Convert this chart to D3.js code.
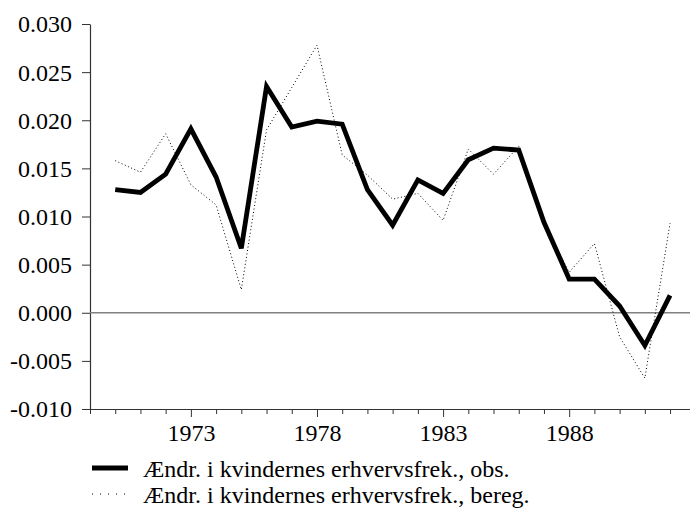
<!DOCTYPE html>
<html>
<head>
<meta charset="utf-8">
<script src="https://cdn.jsdelivr.net/npm/d3@7"></script>
<style>
  body { margin: 0; background: #fff; }
  text { font-family: "Liberation Serif", "Times New Roman", serif; fill: #000; }
</style>
</head>
<body>
<div id="chart"></div>
<script>
// years 1970-1992
const years = d3.range(1970, 1993);
const obs = [0.0128, 0.0125, 0.0144, 0.0191, 0.0141, 0.0067, 0.0235, 0.0193, 0.0199, 0.0196,
  0.0128, 0.0091, 0.0138, 0.0124, 0.0159, 0.0171, 0.0169, 0.0094, 0.0035, 0.0035,
  0.0007, -0.0034, 0.0018];
const bereg = [0.0158, 0.0146, 0.0186, 0.0133, 0.0112, 0.0024, 0.0190, 0.0234, 0.0278, 0.0164,
  0.0143, 0.0118, 0.0124, 0.0096, 0.0170, 0.0144, 0.0173, 0.0093, 0.0042, 0.0072,
  -0.0025, -0.0068, 0.0093];
const yTicks = [-0.010, -0.005, 0.000, 0.005, 0.010, 0.015, 0.020, 0.025, 0.030];
const xLabels = [1973, 1978, 1983, 1988];
const legendLabels = ["Ændr. i kvindernes erhvervsfrek., obs.", "Ændr. i kvindernes erhvervsfrek., bereg."];

const width = 690, height = 510;
const margin = { left: 90, right: 690, top: 24, bottom: 409 };
const serif = '"Liberation Serif", "Times New Roman", serif';

const svg = d3.select("#chart").append("svg")
  .attr("width", width)
  .attr("height", height);

const x = d3.scaleLinear()
  .domain([1969, 1969 + (margin.right - margin.left) / 25.22])
  .range([margin.left, margin.right]);
const y = d3.scaleLinear().domain([-0.010, 0.030]).range([margin.bottom, margin.top]);

// plain hyphen for negatives, like the original
const fmt = d => d3.format(".3f")(d).replace("\u2212", "-");

// y axis
const yAxis = svg.append("g")
  .attr("transform", `translate(${margin.left},0)`)
  .call(d3.axisLeft(y).tickValues(yTicks).tickFormat(fmt).tickSize(8).tickPadding(10).tickSizeOuter(0))
  .attr("font-family", serif)
  .attr("font-size", 24);
yAxis.select(".domain").attr("stroke", "#333").attr("stroke-width", 1.2);
yAxis.selectAll(".tick line").attr("stroke", "#333");
yAxis.selectAll("text").attr("dy", "0.33em");

// x axis: a tick every year, longer ones where labelled
const xAxis = svg.append("g")
  .attr("transform", `translate(0,${margin.bottom})`)
  .call(d3.axisBottom(x).tickValues(d3.range(1969, 1993)).tickSize(5).tickSizeOuter(0)
    .tickFormat(d => xLabels.includes(d) ? d : ""))
  .attr("font-family", serif)
  .attr("font-size", 24);
xAxis.select(".domain").attr("stroke", "#333").attr("stroke-width", 1.2);
xAxis.selectAll(".tick line").attr("stroke", "#333")
  .attr("y2", d => xLabels.includes(d) ? 8 : 5);
xAxis.selectAll("text").attr("y", 32).attr("dy", 0);

// zero line
svg.append("line")
  .attr("x1", margin.left).attr("x2", margin.right)
  .attr("y1", y(0)).attr("y2", y(0))
  .attr("stroke", "#808080")
  .attr("stroke-width", 1.3);

const line = d3.line()
  .x((d, i) => x(years[i]))
  .y(d => y(d));

svg.append("path")
  .datum(bereg)
  .attr("fill", "none")
  .attr("stroke", "#000")
  .attr("stroke-width", 1)
  .attr("stroke-dasharray", "1,2.5")
  .attr("d", line);

svg.append("path")
  .datum(obs)
  .attr("fill", "none")
  .attr("stroke", "#000")
  .attr("stroke-width", 4.8)
  .attr("stroke-linejoin", "miter")
  .attr("d", line);

// legend
const legend = svg.append("g").attr("transform", "translate(92,468)");
legendLabels.forEach((lab, i) => {
  const g = legend.append("g").attr("transform", `translate(0,${i * 26})`);
  g.append("line")
    .attr("x1", 0).attr("x2", 36)
    .attr("stroke", "#000")
    .attr("stroke-width", i === 0 ? 4.8 : 1)
    .attr("stroke-dasharray", i === 0 ? null : "1,7");
  g.append("text")
    .attr("x", 51)
    .attr("y", 9)
    .style("font-size", "24px")
    .text(lab);
});
</script>
</body>
</html>
